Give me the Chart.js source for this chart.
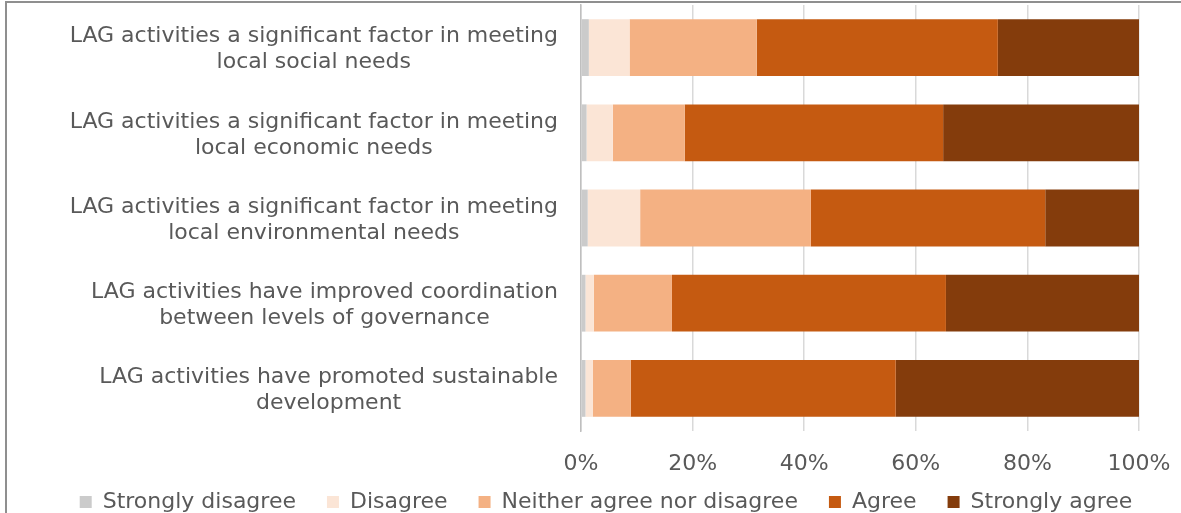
<!DOCTYPE html>
<html>
<head>
<meta charset="utf-8">
<script src="https://cdn.jsdelivr.net/npm/chart.js@4"></script>
<style>
  html, body { margin: 0; padding: 0; background: #fff; overflow: hidden; }
  #wrap { position: relative; width: 1181px; height: 513px; }
  #frame { position: absolute; left: 5px; top: 1px; width: 1300px; height: 700px; border: 2px solid #8f8f8f; pointer-events: none; }
</style>
</head>
<body>
<div id="wrap">
  <canvas id="chart" width="1181" height="513"></canvas>
  <div id="frame"></div>
</div>
<script>
const categories = [
  ['LAG activities a significant factor in meeting', 'local social needs'],
  ['LAG activities a significant factor in meeting', 'local economic needs'],
  ['LAG activities a significant factor in meeting', 'local environmental needs'],
  ['LAG activities have improved coordination', 'between levels of governance'],
  ['LAG activities have promoted sustainable', 'development'],
];
const stronglyDisagree = [1.4, 1.0, 1.2, 0.8, 0.8];
const disagree = [7.3, 4.7, 9.4, 1.5, 1.3];
const neither = [22.8, 12.9, 30.6, 14.0, 6.8];
const agree = [43.2, 46.3, 42.0, 49.1, 47.5];
const stronglyAgree = [25.3, 35.1, 16.8, 34.6, 43.6];
const xTicks = [0, 20, 40, 60, 80, 100];

const FONT = '"DejaVu Sans", Verdana, sans-serif';
const TEXT = '#595959';

// multi-line y labels, each line centred within its own block (like Excel)
const yLabels = {
  id: 'yLabels',
  afterDraw(chart) {
    const { ctx } = chart;
    const y = chart.scales.y;
    ctx.save();
    ctx.font = '22px ' + FONT;
    ctx.fillStyle = TEXT;
    ctx.textAlign = 'center';
    ctx.textBaseline = 'middle';
    categories.forEach((lines, i) => {
      const w = Math.max(...lines.map((l) => ctx.measureText(l).width));
      const cx = y.right - 23 - w / 2;
      const cy = y.getPixelForTick(i) + 2;
      lines.forEach((l, j) => {
        ctx.fillText(l, cx, cy + (j - (lines.length - 1) / 2) * 26);
      });
    });
    ctx.restore();
  },
};

// legend padding is also its vertical gap, pull it up a bit
const legendShift = {
  id: 'legendShift',
  afterLayout(chart) {
    chart.legend.top -= 18;
    chart.legend.bottom -= 18;
  },
};

const ds = (label, data, color) => ({
  label,
  data,
  backgroundColor: color,
  borderWidth: 0,
  categoryPercentage: 0.667,
  barPercentage: 1,
});

new Chart(document.getElementById('chart'), {
  type: 'bar',
  data: {
    labels: categories,
    datasets: [
      ds('Strongly disagree', stronglyDisagree, '#cbcbcb'),
      ds('Disagree', disagree, '#fbe5d6'),
      ds('Neither agree nor disagree', neither, '#f4b183'),
      ds('Agree', agree, '#c55a11'),
      ds('Strongly agree', stronglyAgree, '#843c0c'),
    ],
  },
  options: {
    indexAxis: 'y',
    responsive: false,
    animation: false,
    layout: { padding: { left: 38, right: 7, top: 5, bottom: -28 } },
    scales: {
      x: {
        stacked: true,
        min: 0,
        max: 100,
        afterBuildTicks: (s) => { s.ticks = xTicks.map((v) => ({ value: v })); },
        afterFit: (s) => { s.height = 47; s.paddingRight = 42; },
        ticks: {
          callback: (v) => v + '%',
          color: TEXT,
          font: { family: FONT, size: 22 },
          padding: 20,
          maxRotation: 0,
        },
        grid: { color: '#d9d9d9', lineWidth: 1.5, drawTicks: false },
        border: { display: false },
      },
      y: {
        stacked: true,
        grid: { display: false },
        border: { color: '#bfbfbf', width: 1.5 },
        ticks: { display: false },
        afterFit: (s) => { s.width = 543; },
      },
    },
    plugins: {
      legend: {
        position: 'bottom',
        labels: {
          color: TEXT,
          font: { family: FONT, size: 22 },
          boxWidth: 12,
          boxHeight: 12,
          padding: 31,
        },
      },
      tooltip: { enabled: false },
    },
  },
  plugins: [yLabels, legendShift],
});
</script>
</body>
</html>
